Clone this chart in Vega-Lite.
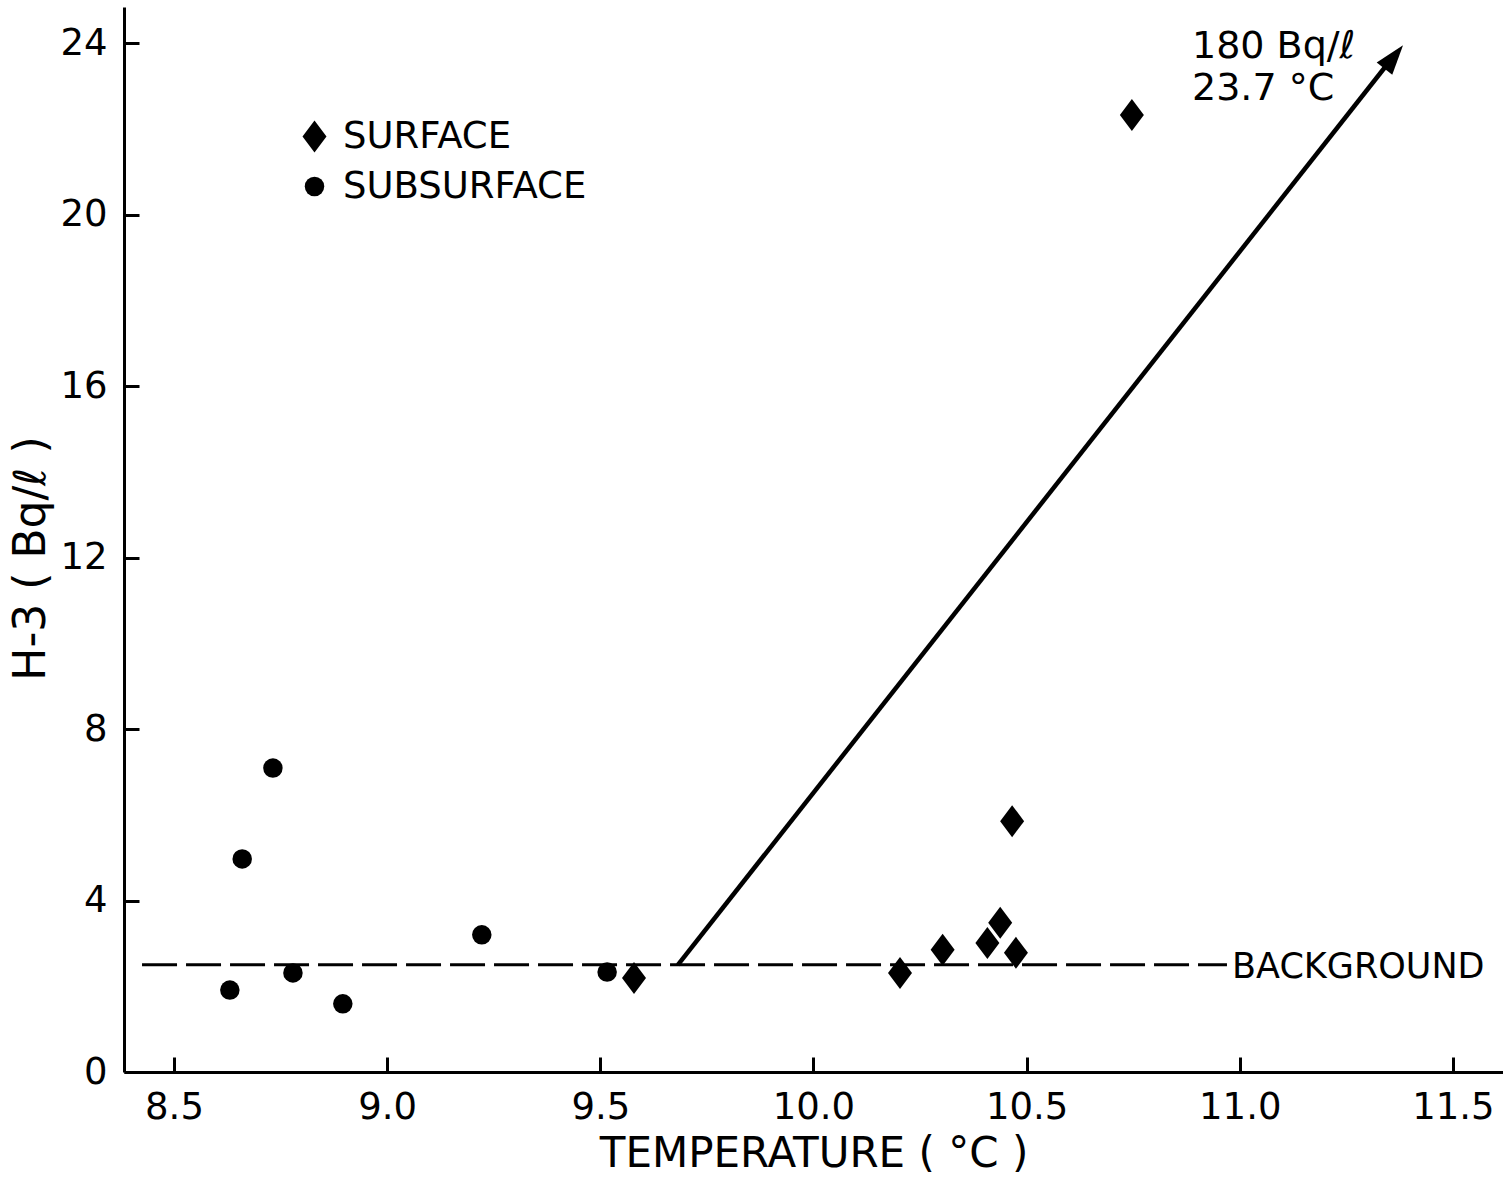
{
  "$schema": "https://vega.github.io/schema/vega-lite/v6.json",
  "width": 1379,
  "height": 1065,
  "autosize": {"type": "none"},
  "padding": {"left": 124, "top": 7, "right": 0, "bottom": 106},
  "background": "white",
  "config": {
    "font": "DejaVu Sans",
    "view": {"stroke": null},
    "axis": {
      "domainColor": "black", "domainWidth": 3, "tickColor": "black", "tickWidth": 3,
      "tickSize": -15, "labelColor": "black", "labelFontSize": 37, "titleColor": "black",
      "titleFontWeight": "normal", "grid": false, "labelFlush": false
    }
  },
  "datasets": {
    "points": [
      {"type": "SURFACE", "x": 9.579, "y": 2.19},
      {"type": "SURFACE", "x": 10.203, "y": 2.31},
      {"type": "SURFACE", "x": 10.303, "y": 2.85},
      {"type": "SURFACE", "x": 10.408, "y": 3.01},
      {"type": "SURFACE", "x": 10.438, "y": 3.48},
      {"type": "SURFACE", "x": 10.475, "y": 2.78},
      {"type": "SURFACE", "x": 10.466, "y": 5.85},
      {"type": "SURFACE", "x": 10.747, "y": 22.32},
      {"type": "SUBSURFACE", "x": 8.631, "y": 1.91},
      {"type": "SUBSURFACE", "x": 8.66, "y": 4.97},
      {"type": "SUBSURFACE", "x": 8.732, "y": 7.09},
      {"type": "SUBSURFACE", "x": 8.779, "y": 2.31},
      {"type": "SUBSURFACE", "x": 8.896, "y": 1.59},
      {"type": "SUBSURFACE", "x": 9.222, "y": 3.2},
      {"type": "SUBSURFACE", "x": 9.516, "y": 2.33}
    ],
    "bg": [{"x": 8.425, "x2": 10.97, "y": 2.5}],
    "bgLabel": [{"x": 10.982, "y": 2.45, "label": "BACKGROUND"}],
    "arrow": [{"x": 9.682, "y": 2.5, "x2": 11.36, "y2": 23.68}],
    "tip": [{"x": 11.383, "y": 23.95}],
    "notes": [
      {"x": 10.888, "y": 23.65, "label": "180 Bq/ℓ"},
      {"x": 10.888, "y": 22.67, "label": "23.7 °C"}
    ]
  },
  "encoding": {
    "x": {
      "field": "x", "type": "quantitative",
      "scale": {"domain": [8.3827, 11.6175], "nice": false, "zero": false},
      "axis": {"values": [8.5, 9, 9.5, 10, 10.5, 11, 11.5], "format": ".1f", "title": "TEMPERATURE ( °C )", "titleFontSize": 42, "labelPadding": 32, "titlePadding": 8}
    },
    "y": {
      "field": "y", "type": "quantitative",
      "scale": {"domain": [0, 24.84], "nice": false, "zero": false},
      "axis": {"values": [0, 4, 8, 12, 16, 20, 24], "title": "H-3 ( Bq/ℓ )", "titleFontSize": 44, "titleY": 551, "labelPadding": 32, "titlePadding": 6}
    }
  },
  "layer": [
    {
      "data": {"name": "bg"},
      "mark": {"type": "rule", "color": "black", "strokeWidth": 3, "strokeDash": [35, 9]},
      "encoding": {"x2": {"field": "x2"}}
    },
    {
      "data": {"name": "bgLabel"},
      "mark": {"type": "text", "align": "left", "baseline": "middle", "fontSize": 35, "color": "black"},
      "encoding": {"text": {"field": "label"}}
    },
    {
      "data": {"name": "arrow"},
      "mark": {"type": "rule", "color": "black", "strokeWidth": 4.5},
      "encoding": {"x2": {"field": "x2"}, "y2": {"field": "y2"}}
    },
    {
      "data": {"name": "tip"},
      "mark": {"type": "point", "shape": "M0,0L-0.33,1L0.33,1Z", "size": 3600, "angle": 38.2, "filled": true, "color": "black", "opacity": 1}
    },
    {
      "data": {"name": "notes"},
      "mark": {"type": "text", "align": "left", "baseline": "alphabetic", "fontSize": 38, "color": "black"},
      "encoding": {"text": {"field": "label"}}
    },
    {
      "data": {"name": "points"},
      "mark": {"type": "point", "filled": true, "color": "black", "opacity": 1},
      "encoding": {
        "shape": {
          "field": "type", "type": "nominal",
          "scale": {"domain": ["SURFACE", "SUBSURFACE"], "range": ["M0,-1L0.75,0L0,1L-0.75,0Z", "circle"]},
          "legend": {
            "orient": "none", "legendX": 172, "legendY": 111, "title": null,
            "labelFontSize": 37, "labelColor": "black", "labelOffset": 10, "rowPadding": 12, "labelLimit": 500,
            "symbolFillColor": "black", "symbolStrokeWidth": 0, "symbolOpacity": 1, "padding": 0
          }
        },
        "size": {
          "field": "type", "type": "nominal",
          "scale": {"domain": ["SURFACE", "SUBSURFACE"], "range": [1024, 380]},
          "legend": {
            "orient": "none", "legendX": 172, "legendY": 111, "title": null,
            "labelFontSize": 37, "labelColor": "black", "labelOffset": 10, "rowPadding": 12, "labelLimit": 500,
            "symbolFillColor": "black", "symbolStrokeWidth": 0, "symbolOpacity": 1, "padding": 0
          }
        }
      }
    }
  ]
}
